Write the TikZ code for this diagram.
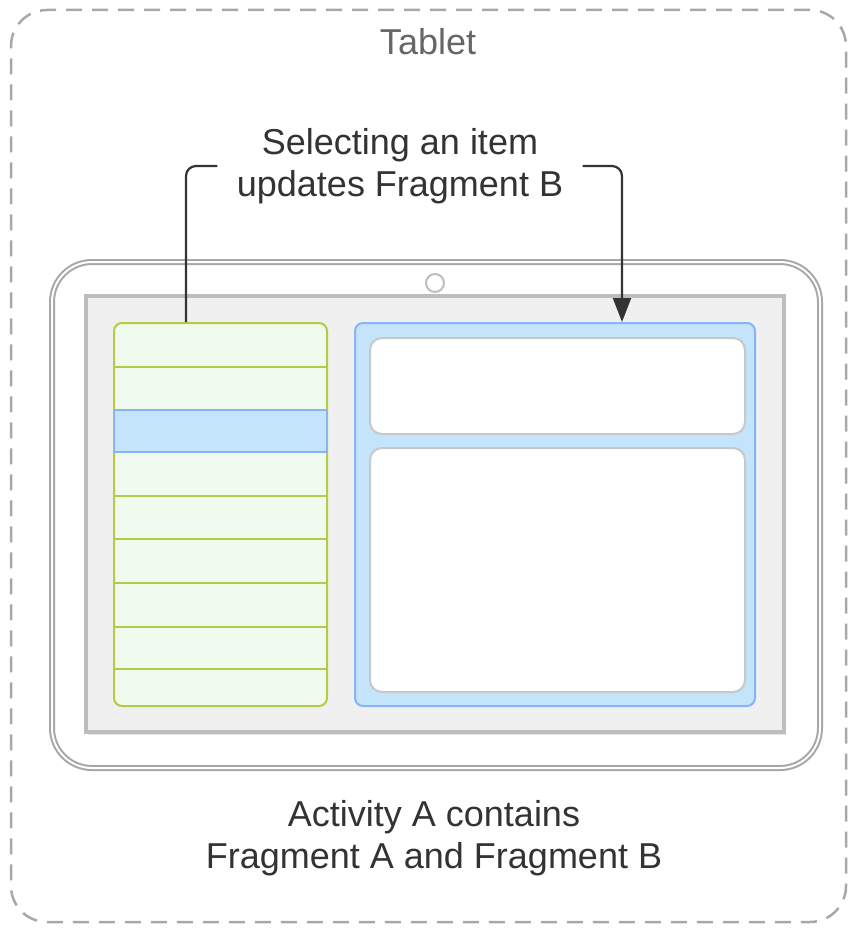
\documentclass[tikz,border=0pt]{standalone}
\usepackage{fontspec}
\setmainfont{Liberation Sans}
\usetikzlibrary{arrows.meta,shadows}
\definecolor{txtdark}{HTML}{333333}
\definecolor{txtgray}{HTML}{666666}
\definecolor{dashgray}{HTML}{A8A8A8}
\definecolor{framegray}{HTML}{A6A6A6}
\definecolor{screenfill}{HTML}{F0F0F0}
\definecolor{screenline}{HTML}{BDBDBD}
\definecolor{greenfill}{HTML}{F1FAEE}
\definecolor{greenline}{HTML}{B2CD45}
\definecolor{bluefill}{HTML}{C3E4FB}
\definecolor{blueline}{HTML}{86B4F6}
\definecolor{innerline}{HTML}{C8C8C8}
\tikzset{
  lbl/.style={font=\fontsize{36}{42}\selectfont, align=center, inner sep=0pt},
  outerbox/.style={draw=dashgray, line width=2.5pt, dash pattern=on 16pt off 10pt, rounded corners=36pt, minimum width=835pt, minimum height=912pt},
  devicebox/.style={draw=framegray, line width=2pt, double=white, double distance=2pt, rounded corners=40pt, fill=white, minimum width=768pt, minimum height=506pt, drop shadow={shadow xshift=1.5pt, shadow yshift=-2.5pt, opacity=0.25}},
  screenbox/.style={draw=screenline, line width=4.5pt, fill=screenfill, minimum width=698pt, minimum height=436pt, drop shadow={shadow xshift=2pt, shadow yshift=-3pt, opacity=0.2}},
  fragA/.style={draw=greenline, line width=2pt, fill=greenfill, rounded corners=8pt, minimum width=213pt, minimum height=383pt},
  fragB/.style={draw=blueline, line width=2pt, fill=bluefill, rounded corners=8pt, minimum width=400pt, minimum height=383pt},
  innerbox/.style={draw=innerline, line width=2pt, fill=white, rounded corners=12pt, minimum width=375pt},
  rowline/.style={draw=greenline, line width=2pt},
  selrow/.style={draw=blueline, line width=2pt, fill=bluefill, minimum width=213pt, minimum height=42pt},
  conn/.style={draw=txtdark, line width=2.2pt, rounded corners=10pt},
  cam/.style={circle, draw=screenline, line width=2pt, fill=white, minimum size=18pt, inner sep=0pt}
}
\begin{document}
\begin{tikzpicture}[x=1pt,y=-1pt]
\useasboundingbox (0,0) rectangle (856,931);
\node[outerbox] (outer) at (428.5,466) {};
\node[lbl, text=txtgray] (tablet) at (428,42) {Tablet};
\node[devicebox] (device) at (436,515) {};
\node[cam] (camera) at (435,283) {};
\node[screenbox] (screen) at (435,514) {};
\node[fragA] (fragA) at (220.5,514.5) {};
\foreach \y [count=\i] in {367,496,539,583,627,669} {
  \draw[rowline] (fragA.west |- 0,\y) coordinate (rl\i) -- (fragA.east |- 0,\y);
}
\node[selrow] (sel) at (220.5,431) {};
\node[fragB] (fragB) at (555,514.5) {};
\node[innerbox, minimum height=96pt] (inner1) at (557.5,386) {};
\node[innerbox, minimum height=244pt] (inner2) at (557.5,570) {};
\node[lbl, text=txtdark, minimum width=365pt] (note) at (400,166) {Selecting an item\\updates Fragment B};
\coordinate (start) at ([xshift=-34.5pt]fragA.north);
\coordinate (finish) at ([xshift=67pt]fragB.north);
\draw[conn] (start) |- (note.west);
\draw[conn, -{Triangle[length=24pt,width=18pt]}] (note.east) -| (finish);
\node[lbl, text=txtdark] (caption) at (434,838) {Activity A contains\\Fragment A and Fragment B};
\end{tikzpicture}
\end{document}
